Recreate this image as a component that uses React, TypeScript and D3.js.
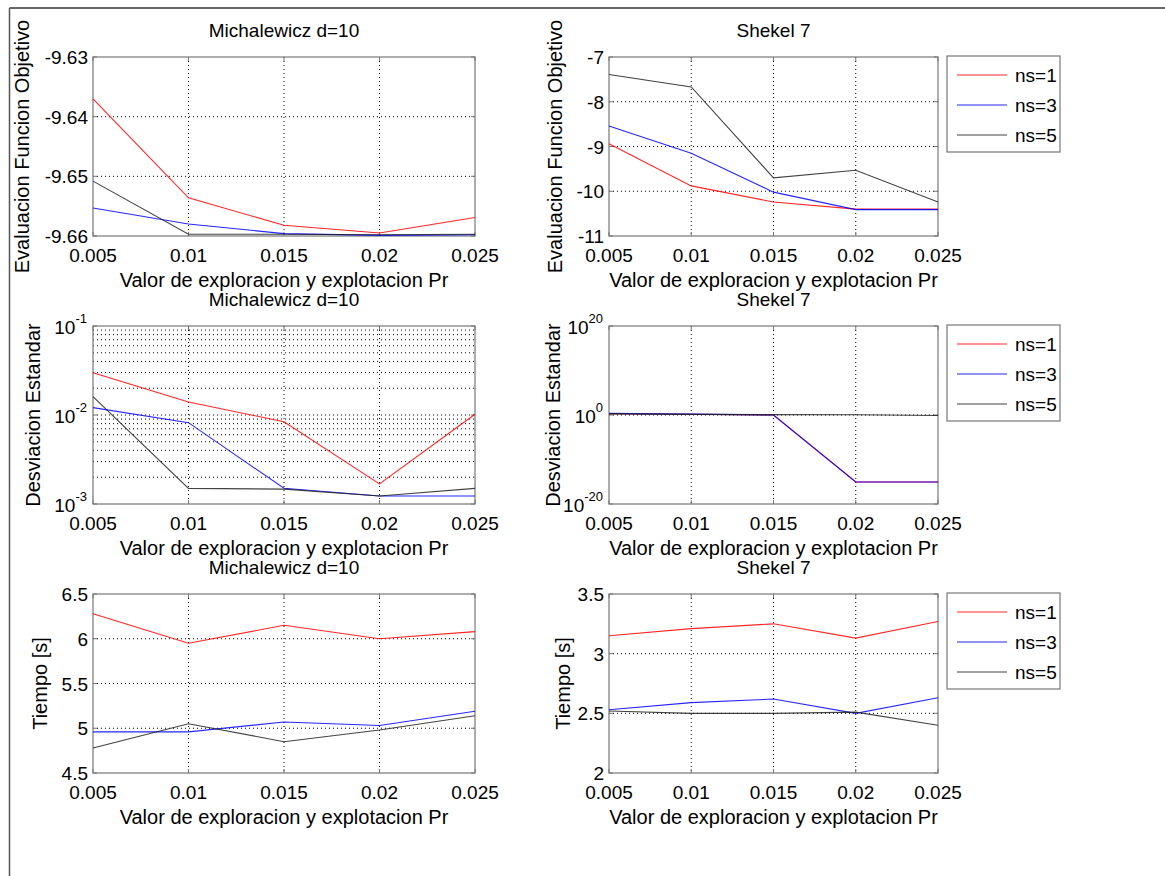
import React from "react";
import * as d3 from "d3";

// valores de Pr (eje x)
const prValues = [0.005, 0.01, 0.015, 0.02, 0.025];
const seriesNames = ["ns=1", "ns=3", "ns=5"];
const seriesColors = ["#ff0000", "#0000ff", "#222222"];

// Michalewicz d=10 - evaluacion funcion objetivo
const michObjNs1 = [-9.637, -9.6536, -9.6582, -9.6595, -9.6569];
const michObjNs3 = [-9.6553, -9.658, -9.6596, -9.6599, -9.6598];
const michObjNs5 = [-9.6508, -9.6597, -9.6597, -9.6598, -9.6597];

// Shekel 7 - evaluacion funcion objetivo
const shekObjNs1 = [-8.94, -9.88, -10.24, -10.4, -10.4];
const shekObjNs3 = [-8.54, -9.15, -10.02, -10.41, -10.41];
const shekObjNs5 = [-7.39, -7.67, -9.7, -9.53, -10.24];

// Michalewicz d=10 - desviacion estandar
const michStdNs1 = [0.0299, 0.014, 0.0084, 0.00168, 0.0102];
const michStdNs3 = [0.0121, 0.0082, 0.0015, 0.00123, 0.00123];
const michStdNs5 = [0.0161, 0.0015, 0.00147, 0.00123, 0.0015];

// Shekel 7 - desviacion estandar
const shekStdNs1 = [2.0, 1.5, 1.0, 9e-16, 9e-16];
const shekStdNs3 = [2.3, 1.6, 1.0, 9e-16, 9e-16];
const shekStdNs5 = [1.8, 1.4, 1.2, 1.1, 0.8];

// tiempos
const michTimeNs1 = [6.28, 5.95, 6.15, 6.0, 6.08];
const michTimeNs3 = [4.96, 4.96, 5.07, 5.03, 5.19];
const michTimeNs5 = [4.78, 5.05, 4.85, 4.98, 5.14];
const shekTimeNs1 = [3.15, 3.21, 3.25, 3.13, 3.27];
const shekTimeNs3 = [2.53, 2.59, 2.62, 2.5, 2.63];
const shekTimeNs5 = [2.52, 2.5, 2.5, 2.51, 2.4];

// ticks
const xTicks = [0.005, 0.01, 0.015, 0.02, 0.025];
const michObjTicks = [-9.66, -9.65, -9.64, -9.63];
const shekObjTicks = [-11, -10, -9, -8, -7];
const michStdTicks = [-3, -2, -1];
const shekStdTicks = [-20, 0, 20];
const michTimeTicks = [4.5, 5, 5.5, 6, 6.5];
const shekTimeTicks = [2, 2.5, 3, 3.5];

const FONT = "'Liberation Sans', Arial, Helvetica, sans-serif";
const xLabel = "Valor de exploracion y explotacion Pr";

const rows = [
  { top: 57, bottom: 236 },
  { top: 326, bottom: 504 },
  { top: 594, bottom: 773 },
];
const cols = [
  { x0: 93, x1: 475 },
  { x0: 609, x1: 938 },
];

const panels = [
  { row: 0, col: 0, title: "Michalewicz d=10", ylabel: "Evaluacion Funcion Objetivo", ylabX: 29, log: false, domain: [-9.66, -9.63], ticks: michObjTicks, fmt: (v) => d3.format(".2f")(v).replace("−", "-"), series: [michObjNs1, michObjNs3, michObjNs5], legend: false },
  { row: 0, col: 1, title: "Shekel 7", ylabel: "Evaluacion Funcion Objetivo", ylabX: 562, log: false, domain: [-11, -7], ticks: shekObjTicks, fmt: (v) => String(v), series: [shekObjNs1, shekObjNs3, shekObjNs5], legend: true },
  { row: 1, col: 0, title: "Michalewicz d=10", ylabel: "Desviacion Estandar", ylabX: 40, log: true, domain: [1e-3, 1e-1], ticks: michStdTicks, minor: true, series: [michStdNs1, michStdNs3, michStdNs5], legend: false },
  { row: 1, col: 1, title: "Shekel 7", ylabel: "Desviacion Estandar", ylabX: 560, log: true, domain: [1e-20, 1e20], ticks: shekStdTicks, minor: false, series: [shekStdNs1, shekStdNs3, shekStdNs5], legend: true },
  { row: 2, col: 0, title: "Michalewicz d=10", ylabel: "Tiempo [s]", ylabX: 47, log: false, domain: [4.5, 6.5], ticks: michTimeTicks, fmt: (v) => String(v), series: [michTimeNs1, michTimeNs3, michTimeNs5], legend: false },
  { row: 2, col: 1, title: "Shekel 7", ylabel: "Tiempo [s]", ylabX: 570, log: false, domain: [2, 3.5], ticks: shekTimeTicks, fmt: (v) => String(v), series: [shekTimeNs1, shekTimeNs3, shekTimeNs5], legend: true },
];

function Panel({ p }: { p: any }) {
  const { top, bottom } = rows[p.row];
  const { x0, x1 } = cols[p.col];
  const x = d3.scaleLinear().domain([0.005, 0.025]).range([x0, x1]);
  const y = p.log
    ? d3.scaleLog().domain(p.domain).range([bottom, top])
    : d3.scaleLinear().domain(p.domain).range([bottom, top]);
  const line = d3
    .line<number>()
    .x((_, i) => x(prValues[i]))
    .y((d) => y(d));

  const tickVals: number[] = p.log ? p.ticks.map((e: number) => Math.pow(10, e)) : p.ticks;
  const hGrid: number[] = [];
  tickVals.forEach((v) => {
    if (v !== p.domain[0] && v !== p.domain[1]) hGrid.push(v);
  });
  if (p.log && p.minor) {
    for (let e = -3; e < -1; e++) {
      for (let k = 2; k <= 9; k++) hGrid.push(k * Math.pow(10, e));
    }
  }
  const dots = "1,3";
  const gray = "#777";
  const mid = (x0 + x1) / 2;

  return (
    <g fontFamily={FONT}>
      <text x={mid} y={top - 20} textAnchor="middle" fontSize={19} fill="#000">
        {p.title}
      </text>
      {xTicks.slice(1, -1).map((t) => (
        <line key={"vg" + t} x1={x(t)} x2={x(t)} y1={top} y2={bottom} stroke="#000" strokeWidth={1} strokeDasharray={dots} />
      ))}
      {hGrid.map((v, i) => (
        <line key={"hg" + i} x1={x0} x2={x1} y1={y(v)} y2={y(v)} stroke="#000" strokeWidth={1} strokeDasharray={dots} />
      ))}
      {xTicks.map((t) => (
        <g key={"xt" + t}>
          <line x1={x(t)} x2={x(t)} y1={bottom} y2={bottom - 4} stroke={gray} />
          <line x1={x(t)} x2={x(t)} y1={top} y2={top + 4} stroke={gray} />
          <text x={x(t)} y={bottom + 26} textAnchor="middle" fontSize={19} fill="#000">
            {String(t)}
          </text>
        </g>
      ))}
      {tickVals.map((v, i) => (
        <g key={"yt" + i}>
          <line x1={x0} x2={x0 + 4} y1={y(v)} y2={y(v)} stroke={gray} />
          <line x1={x1} x2={x1 - 4} y1={y(v)} y2={y(v)} stroke={gray} />
          {p.log ? (
            <text x={x0 - 6} y={y(v) + 8} textAnchor="end" fontSize={19} fill="#000">
              10
              <tspan dy={-11} fontSize={13}>
                {String(p.ticks[i])}
              </tspan>
            </text>
          ) : (
            <text x={x0 - 5} y={y(v) + 7} textAnchor="end" fontSize={19} fill="#000">
              {p.fmt(v)}
            </text>
          )}
        </g>
      ))}
      <rect x={x0} y={top} width={x1 - x0} height={bottom - top} fill="none" stroke={gray} strokeWidth={1.2} />
      {p.series.map((s: number[], i: number) => (
        <path key={"s" + i} d={line(s) || ""} fill="none" stroke={seriesColors[i]} strokeWidth={1.1} strokeOpacity={0.85} />
      ))}
      <text x={mid} y={bottom + 51} textAnchor="middle" fontSize={20} fill="#000">
        {xLabel}
      </text>
      <text
        transform={`translate(${p.ylabX},${(top + bottom) / 2}) rotate(-90)`}
        textAnchor="middle"
        fontSize={20}
        fill="#000"
      >
        {p.ylabel}
      </text>
      {p.legend && (
        <g>
          <rect x={947} y={top - 1} width={113} height={96} fill="#fff" stroke={gray} strokeWidth={1.2} />
          {seriesNames.map((n, i) => (
            <g key={n}>
              <line x1={957} x2={1007} y1={top + 18 + i * 30} y2={top + 18 + i * 30} stroke={seriesColors[i]} strokeWidth={1.1} strokeOpacity={0.85} />
              <text x={1015} y={top + 25 + i * 30} fontSize={19} fill="#000">
                {n}
              </text>
            </g>
          ))}
        </g>
      )}
    </g>
  );
}

export default function App() {
  return (
    <svg
      width={1165}
      height={876}
      style={{ position: "absolute", left: 0, top: 0, background: "#fff" }}
    >
      <rect x={0} y={0} width={1165} height={876} fill="#fff" />
      <line x1={9.5} x2={1165} y1={8} y2={8} stroke="#333" strokeWidth={1.5} />
      <line x1={9.5} x2={9.5} y1={8} y2={876} stroke="#555" strokeWidth={1.5} />
      {panels.map((p, i) => (
        <Panel key={i} p={p} />
      ))}
    </svg>
  );
}
